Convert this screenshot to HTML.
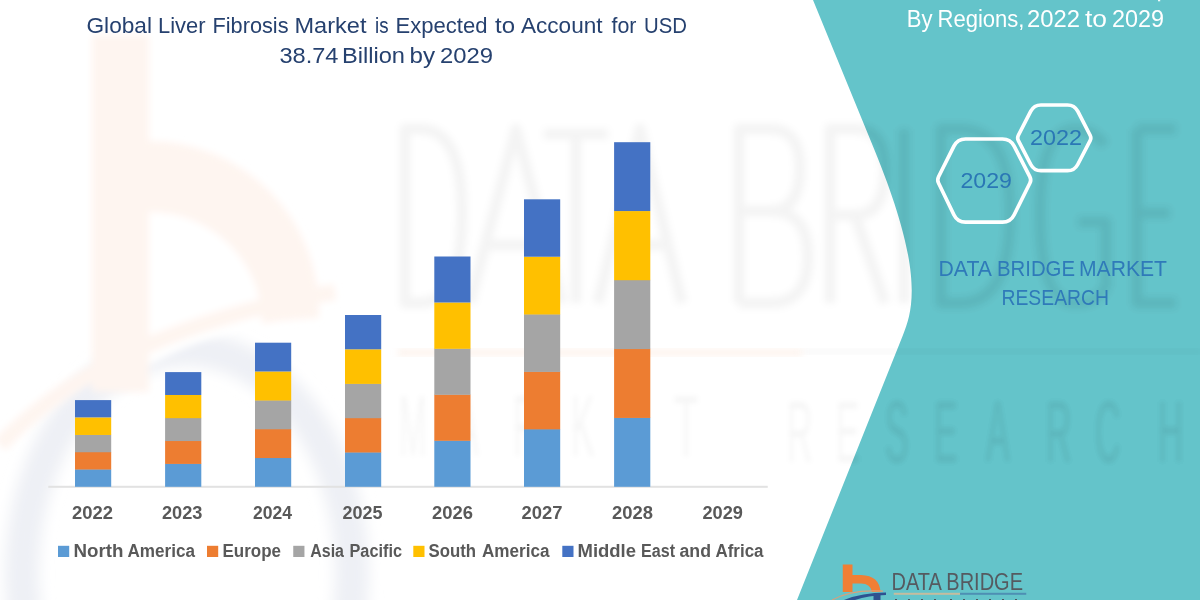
<!DOCTYPE html>
<html><head><meta charset="utf-8">
<style>
html,body{margin:0;padding:0;width:1200px;height:600px;overflow:hidden;background:#fff;}
svg{display:block;font-family:"Liberation Sans",sans-serif;will-change:transform;}
</style></head>
<body>
<svg width="1200" height="600" viewBox="0 0 1200 600">
<rect x="0" y="0" width="1200" height="600" fill="#ffffff"/>
<defs>
<filter id="bl" x="-10%" y="-10%" width="120%" height="120%"><feGaussianBlur stdDeviation="2.5"/></filter>
<filter id="bl2" x="-10%" y="-10%" width="120%" height="120%"><feGaussianBlur stdDeviation="5"/></filter>
<filter id="bl3" x="-10%" y="-10%" width="120%" height="120%"><feGaussianBlur stdDeviation="3.5"/></filter>
<filter id="bl4" x="-20%" y="-20%" width="140%" height="140%"><feGaussianBlur stdDeviation="7"/></filter>
</defs>
<g filter="url(#bl4)">
<ellipse cx="187" cy="573" rx="165" ry="224" fill="none" stroke="#eef0f5" stroke-width="34"/>
</g>
<g filter="url(#bl3)">
<path d="M92 35 H149 V141 A170 170 0 0 1 319 311 V318 Q220 322 149 362 V392 H92 Z" fill="#fef5f0"/>
<path d="M149 212 A113 110 0 0 1 262 322 V326 Q200 336 149 366 Z" fill="#ffffff"/>
<path d="M0 445 Q110 330 335 292" fill="none" stroke="#fef5f0" stroke-width="16"/>
</g>

<path d="M813 0 L874.5 150 C923.79 270.22 913.52 308.69 903 335 L797 600 L1200 600 L1200 0 Z" fill="#64c4ca"/>
<g filter="url(#bl3)" stroke="#000" stroke-opacity="0.042" fill="none" stroke-width="11" stroke-linejoin="round">
<path d="M405 129 V303 H420 Q462 303 462 213 Q462 129 420 129 Z"/>
<path d="M470 303 L516 129 L562 303 M486 245 H546"/>
<path d="M544 134 H608 M576 134 V303"/>
<path d="M598 303 L640 129 L682 303 M614 245 H666"/>
<path d="M739 303 V129 H770 Q800 129 800 168 Q800 211 770 211 H739 M770 211 Q808 211 808 257 Q808 303 770 303 H739"/>
<path d="M830 303 V129 H855 Q885 129 885 170 Q885 215 855 215 H830 M855 215 L885 303"/>
<path d="M904 129 V303"/>
<path d="M941 129 V303 H960 Q1010 303 1010 213 Q1010 129 960 129 Z"/>
<path d="M1105 145 Q1092 129 1075 129 Q1040 129 1040 213 Q1040 303 1075 303 Q1100 303 1106 285 V222 H1078"/>
<path d="M1137 129 V303 H1176 M1137 129 H1176 M1137 213 H1170"/>
</g>
<g filter="url(#bl)" fill="#000" fill-opacity="0.035" font-size="88">
<text transform="translate(399,456) scale(0.38,1)">M</text>
<text transform="translate(455,456) scale(0.4,1)">A</text>
<text transform="translate(513,456) scale(0.4,1)">R</text>
<text transform="translate(571,456) scale(0.4,1)">K</text>
<text transform="translate(623,456) scale(0.4,1)">E</text>
<text transform="translate(674,456) scale(0.45,1)">T</text>
<text transform="translate(787,462) scale(0.4,1)">R</text>
<text transform="translate(836,462) scale(0.4,1)">E</text>
<text transform="translate(885,462) scale(0.4,1)">S</text>
<text transform="translate(934,462) scale(0.4,1)">E</text>
<text transform="translate(986,462) scale(0.4,1)">A</text>
<text transform="translate(1046,462) scale(0.4,1)">R</text>
<text transform="translate(1095,462) scale(0.4,1)">C</text>
<text transform="translate(1158,462) scale(0.4,1)">H</text>
</g>
<rect x="398" y="349.5" width="404" height="6" fill="#fcebe0" opacity="0.7" filter="url(#bl3)"/>
<rect x="802" y="349" width="400" height="5" fill="#000" opacity="0.03" filter="url(#bl3)"/>
<clipPath id="tealclip"><path d="M813 0 L874.5 150 C923.79 270.22 913.52 308.69 903 335 L797 600 L1200 600 L1200 0 Z"/></clipPath>
<g clip-path="url(#tealclip)"><g filter="url(#bl3)" stroke="#000" stroke-opacity="0.03" fill="none" stroke-width="11" stroke-linejoin="round">
<path d="M405 129 V303 H420 Q462 303 462 213 Q462 129 420 129 Z"/>
<path d="M470 303 L516 129 L562 303 M486 245 H546"/>
<path d="M544 134 H608 M576 134 V303"/>
<path d="M598 303 L640 129 L682 303 M614 245 H666"/>
<path d="M739 303 V129 H770 Q800 129 800 168 Q800 211 770 211 H739 M770 211 Q808 211 808 257 Q808 303 770 303 H739"/>
<path d="M830 303 V129 H855 Q885 129 885 170 Q885 215 855 215 H830 M855 215 L885 303"/>
<path d="M904 129 V303"/>
<path d="M941 129 V303 H960 Q1010 303 1010 213 Q1010 129 960 129 Z"/>
<path d="M1105 145 Q1092 129 1075 129 Q1040 129 1040 213 Q1040 303 1075 303 Q1100 303 1106 285 V222 H1078"/>
<path d="M1137 129 V303 H1176 M1137 129 H1176 M1137 213 H1170"/>
</g></g>
<g clip-path="url(#tealclip)"><g filter="url(#bl)" fill="#000" fill-opacity="0.03" font-size="88">
<text transform="translate(399,456) scale(0.38,1)">M</text>
<text transform="translate(455,456) scale(0.4,1)">A</text>
<text transform="translate(513,456) scale(0.4,1)">R</text>
<text transform="translate(571,456) scale(0.4,1)">K</text>
<text transform="translate(623,456) scale(0.4,1)">E</text>
<text transform="translate(674,456) scale(0.45,1)">T</text>
<text transform="translate(787,462) scale(0.4,1)">R</text>
<text transform="translate(836,462) scale(0.4,1)">E</text>
<text transform="translate(885,462) scale(0.4,1)">S</text>
<text transform="translate(934,462) scale(0.4,1)">E</text>
<text transform="translate(986,462) scale(0.4,1)">A</text>
<text transform="translate(1046,462) scale(0.4,1)">R</text>
<text transform="translate(1095,462) scale(0.4,1)">C</text>
<text transform="translate(1158,462) scale(0.4,1)">H</text>
</g></g>

<text x="86.5" y="33" font-size="22.4" fill="#26416f" textLength="65.5" lengthAdjust="spacingAndGlyphs">Global</text>
<text x="158.0" y="33" font-size="22.4" fill="#26416f" textLength="47.5" lengthAdjust="spacingAndGlyphs">Liver</text>
<text x="212.5" y="33" font-size="22.4" fill="#26416f" textLength="76.0" lengthAdjust="spacingAndGlyphs">Fibrosis</text>
<text x="294.5" y="33" font-size="22.4" fill="#26416f" textLength="72.0" lengthAdjust="spacingAndGlyphs">Market</text>
<text x="375.0" y="33" font-size="22.4" fill="#26416f" textLength="13.5" lengthAdjust="spacingAndGlyphs">is</text>
<text x="395.5" y="33" font-size="22.4" fill="#26416f" textLength="92.0" lengthAdjust="spacingAndGlyphs">Expected</text>
<text x="495.0" y="33" font-size="22.4" fill="#26416f" textLength="20.0" lengthAdjust="spacingAndGlyphs">to</text>
<text x="521.0" y="33" font-size="22.4" fill="#26416f" textLength="81.5" lengthAdjust="spacingAndGlyphs">Account</text>
<text x="611.5" y="33" font-size="22.4" fill="#26416f" textLength="25.0" lengthAdjust="spacingAndGlyphs">for</text>
<text x="644.0" y="33" font-size="22.4" fill="#26416f" textLength="43.0" lengthAdjust="spacingAndGlyphs">USD</text>
<text x="279.5" y="62.75" font-size="22.4" fill="#26416f" textLength="59.0" lengthAdjust="spacingAndGlyphs">38.74</text>
<text x="342.0" y="62.75" font-size="22.4" fill="#26416f" textLength="63.0" lengthAdjust="spacingAndGlyphs">Billion</text>
<text x="409.5" y="62.75" font-size="22.4" fill="#26416f" textLength="25.5" lengthAdjust="spacingAndGlyphs">by</text>
<text x="440.0" y="62.75" font-size="22.4" fill="#26416f" textLength="53.0" lengthAdjust="spacingAndGlyphs">2029</text>
<rect x="48.25" y="485.8" width="719.5" height="2" fill="#e2e2e2"/>
<rect x="75.00" y="469.22" width="36.2" height="17.58" fill="#5b9bd5"/>
<rect x="75.00" y="451.94" width="36.2" height="17.58" fill="#ed7d31"/>
<rect x="75.00" y="434.66" width="36.2" height="17.58" fill="#a5a5a5"/>
<rect x="75.00" y="417.38" width="36.2" height="17.58" fill="#ffc000"/>
<rect x="75.00" y="400.10" width="36.2" height="17.28" fill="#4472c4"/>
<rect x="165.10" y="463.62" width="36.2" height="23.18" fill="#5b9bd5"/>
<rect x="165.10" y="440.74" width="36.2" height="23.18" fill="#ed7d31"/>
<rect x="165.10" y="417.86" width="36.2" height="23.18" fill="#a5a5a5"/>
<rect x="165.10" y="394.98" width="36.2" height="23.18" fill="#ffc000"/>
<rect x="165.10" y="372.10" width="36.2" height="22.88" fill="#4472c4"/>
<rect x="255.00" y="457.74" width="36.2" height="29.06" fill="#5b9bd5"/>
<rect x="255.00" y="428.98" width="36.2" height="29.06" fill="#ed7d31"/>
<rect x="255.00" y="400.22" width="36.2" height="29.06" fill="#a5a5a5"/>
<rect x="255.00" y="371.46" width="36.2" height="29.06" fill="#ffc000"/>
<rect x="255.00" y="342.70" width="36.2" height="28.76" fill="#4472c4"/>
<rect x="345.00" y="452.20" width="36.2" height="34.60" fill="#5b9bd5"/>
<rect x="345.00" y="417.90" width="36.2" height="34.60" fill="#ed7d31"/>
<rect x="345.00" y="383.60" width="36.2" height="34.60" fill="#a5a5a5"/>
<rect x="345.00" y="349.30" width="36.2" height="34.60" fill="#ffc000"/>
<rect x="345.00" y="315.00" width="36.2" height="34.30" fill="#4472c4"/>
<rect x="434.30" y="440.50" width="36.2" height="46.30" fill="#5b9bd5"/>
<rect x="434.30" y="394.50" width="36.2" height="46.30" fill="#ed7d31"/>
<rect x="434.30" y="348.50" width="36.2" height="46.30" fill="#a5a5a5"/>
<rect x="434.30" y="302.50" width="36.2" height="46.30" fill="#ffc000"/>
<rect x="434.30" y="256.50" width="36.2" height="46.00" fill="#4472c4"/>
<rect x="524.00" y="429.06" width="36.2" height="57.74" fill="#5b9bd5"/>
<rect x="524.00" y="371.62" width="36.2" height="57.74" fill="#ed7d31"/>
<rect x="524.00" y="314.18" width="36.2" height="57.74" fill="#a5a5a5"/>
<rect x="524.00" y="256.74" width="36.2" height="57.74" fill="#ffc000"/>
<rect x="524.00" y="199.30" width="36.2" height="57.44" fill="#4472c4"/>
<rect x="614.10" y="417.64" width="36.2" height="69.16" fill="#5b9bd5"/>
<rect x="614.10" y="348.78" width="36.2" height="69.16" fill="#ed7d31"/>
<rect x="614.10" y="279.92" width="36.2" height="69.16" fill="#a5a5a5"/>
<rect x="614.10" y="211.06" width="36.2" height="69.16" fill="#ffc000"/>
<rect x="614.10" y="142.20" width="36.2" height="68.86" fill="#4472c4"/>
<text x="72.0" y="518.7" font-size="17.5" font-weight="bold" fill="#595959" textLength="41.0" lengthAdjust="spacingAndGlyphs">2022</text>
<text x="162.0" y="518.7" font-size="17.5" font-weight="bold" fill="#595959" textLength="40.5" lengthAdjust="spacingAndGlyphs">2023</text>
<text x="253.0" y="518.7" font-size="17.5" font-weight="bold" fill="#595959" textLength="39.0" lengthAdjust="spacingAndGlyphs">2024</text>
<text x="342.5" y="518.7" font-size="17.5" font-weight="bold" fill="#595959" textLength="40.0" lengthAdjust="spacingAndGlyphs">2025</text>
<text x="432.0" y="518.7" font-size="17.5" font-weight="bold" fill="#595959" textLength="41.0" lengthAdjust="spacingAndGlyphs">2026</text>
<text x="521.5" y="518.7" font-size="17.5" font-weight="bold" fill="#595959" textLength="41.0" lengthAdjust="spacingAndGlyphs">2027</text>
<text x="612.0" y="518.7" font-size="17.5" font-weight="bold" fill="#595959" textLength="41.0" lengthAdjust="spacingAndGlyphs">2028</text>
<text x="702.5" y="518.7" font-size="17.5" font-weight="bold" fill="#595959" textLength="40.5" lengthAdjust="spacingAndGlyphs">2029</text>
<rect x="58" y="545.8" width="11.2" height="11.2" fill="#5b9bd5"/>
<rect x="207" y="545.8" width="11.2" height="11.2" fill="#ed7d31"/>
<rect x="293.25" y="545.8" width="11.2" height="11.2" fill="#a5a5a5"/>
<rect x="413.3" y="545.8" width="11.2" height="11.2" fill="#ffc000"/>
<rect x="562.3" y="545.8" width="11.2" height="11.2" fill="#4472c4"/>
<text x="73.5" y="556.7" font-size="17.5" font-weight="bold" fill="#595959" textLength="50.0" lengthAdjust="spacingAndGlyphs">North</text>
<text x="127.5" y="556.7" font-size="17.5" font-weight="bold" fill="#595959" textLength="67.5" lengthAdjust="spacingAndGlyphs">America</text>
<text x="222.5" y="556.7" font-size="17.5" font-weight="bold" fill="#595959" textLength="58.5" lengthAdjust="spacingAndGlyphs">Europe</text>
<text x="310.25" y="556.7" font-size="17.5" font-weight="bold" fill="#595959" textLength="33.75" lengthAdjust="spacingAndGlyphs">Asia</text>
<text x="349.5" y="556.7" font-size="17.5" font-weight="bold" fill="#595959" textLength="52.5" lengthAdjust="spacingAndGlyphs">Pacific</text>
<text x="428.5" y="556.7" font-size="17.5" font-weight="bold" fill="#595959" textLength="47.5" lengthAdjust="spacingAndGlyphs">South</text>
<text x="482.0" y="556.7" font-size="17.5" font-weight="bold" fill="#595959" textLength="67.5" lengthAdjust="spacingAndGlyphs">America</text>
<text x="577.5" y="556.7" font-size="17.5" font-weight="bold" fill="#595959" textLength="58.5" lengthAdjust="spacingAndGlyphs">Middle</text>
<text x="641.0" y="556.7" font-size="17.5" font-weight="bold" fill="#595959" textLength="34.0" lengthAdjust="spacingAndGlyphs">East</text>
<text x="679.5" y="556.7" font-size="17.5" font-weight="bold" fill="#595959" textLength="31.5" lengthAdjust="spacingAndGlyphs">and</text>
<text x="715.5" y="556.7" font-size="17.5" font-weight="bold" fill="#595959" textLength="48.0" lengthAdjust="spacingAndGlyphs">Africa</text>
<text x="906.75" y="26.8" font-size="23.3" fill="#ffffff" textLength="25.75" lengthAdjust="spacingAndGlyphs">By</text>
<text x="937.5" y="26.8" font-size="23.3" fill="#ffffff" textLength="87.0" lengthAdjust="spacingAndGlyphs">Regions,</text>
<text x="1027.0" y="26.8" font-size="23.3" fill="#ffffff" textLength="53.0" lengthAdjust="spacingAndGlyphs">2022</text>
<text x="1085.0" y="26.8" font-size="23.3" fill="#ffffff" textLength="22.0" lengthAdjust="spacingAndGlyphs">to</text>
<text x="1112.0" y="26.8" font-size="23.3" fill="#ffffff" textLength="52.0" lengthAdjust="spacingAndGlyphs">2029</text>
<rect x="1158" y="0" width="2.2" height="1.3" fill="#f4fbfb"/>
<g fill="none" stroke="#ffffff" stroke-width="3.7">
<path d="M938.53 183.05 Q937.00 179.90 938.57 176.77 L953.92 146.15 Q957.50 139.00 965.50 139.00 L1002.50 139.00 Q1010.50 139.00 1014.15 146.12 L1029.90 176.79 Q1031.50 179.90 1029.94 183.03 L1014.06 215.03 Q1010.50 222.20 1002.50 222.20 L965.50 222.20 Q957.50 222.20 954.01 215.00 Z"/>
<path d="M1018.38 140.56 Q1017.00 137.90 1018.38 135.23 L1030.79 111.22 Q1034.00 105.00 1041.00 105.00 L1067.50 105.00 Q1074.50 105.00 1077.71 111.22 L1090.12 135.23 Q1091.50 137.90 1090.12 140.56 L1077.72 164.49 Q1074.50 170.70 1067.50 170.70 L1041.00 170.70 Q1034.00 170.70 1030.78 164.49 Z"/>
</g>
<text x="960.5" y="188" font-size="22.5" fill="#2a77b5" textLength="51.5" lengthAdjust="spacingAndGlyphs">2029</text>
<text x="1030.0" y="145.3" font-size="22.5" fill="#2a77b5" textLength="52.0" lengthAdjust="spacingAndGlyphs">2022</text>
<text x="938.5" y="275.6" font-size="22.8" fill="#2f7ab9" textLength="53.5" lengthAdjust="spacingAndGlyphs">DATA</text>
<text x="997.0" y="275.6" font-size="22.8" fill="#2f7ab9" textLength="78.0" lengthAdjust="spacingAndGlyphs">BRIDGE</text>
<text x="1079.0" y="275.6" font-size="22.8" fill="#2f7ab9" textLength="88.0" lengthAdjust="spacingAndGlyphs">MARKET</text>
<text x="1001.5" y="305.4" font-size="22.8" fill="#2f7ab9" textLength="107.5" lengthAdjust="spacingAndGlyphs">RESEARCH</text>
<g>
<path d="M842.75 564.4 L852.5 564.4 L852.5 574.9 L861 574.9 Q879.5 575.5 880.5 592 L872 592 Q870.5 583.5 861 583.5 L852.5 583.5 L852.5 592 L842.75 592 Z" fill="#f07f35"/>
<path d="M832 600 Q852 589 883 591.2" fill="none" stroke="#d9a07a" stroke-width="1.2"/>
<path d="M844 600 Q862 592.5 886 592.5 L886 595 Q868 595.5 855 600 Z" fill="#2d5190"/>
<rect x="873.5" y="595" width="7" height="5" fill="#2d5190"/>
<rect x="893.75" y="592.8" width="66.25" height="2" fill="#c6bc9e"/>
<rect x="960" y="592.8" width="66.25" height="2" fill="#4e8fb3"/>
<g fill="#4a5560">
<rect x="895" y="599" width="2" height="1"/><rect x="908" y="599" width="2" height="1"/><rect x="921" y="599" width="2" height="1"/><rect x="934" y="599" width="2" height="1"/><rect x="950" y="599" width="2" height="1"/><rect x="963" y="599" width="2" height="1"/><rect x="976" y="599" width="2" height="1"/><rect x="989" y="599" width="2" height="1"/><rect x="1002" y="599" width="2" height="1"/><rect x="1015" y="599" width="2" height="1"/>
</g>
</g>

<text x="891.5" y="589.8" font-size="23" fill="#555a60" textLength="131.5" lengthAdjust="spacingAndGlyphs">DATA BRIDGE</text>
</svg>
</body></html>
